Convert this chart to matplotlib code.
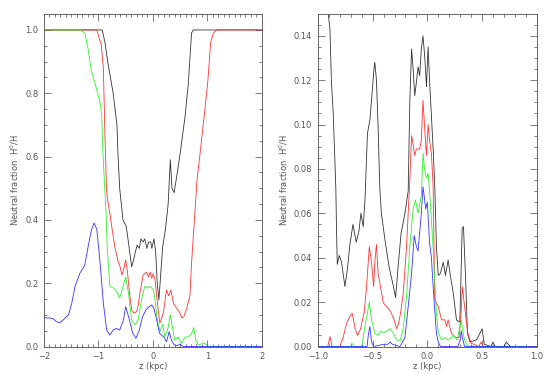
import numpy as np
import matplotlib
matplotlib.use("Agg")
import matplotlib.pyplot as plt
from matplotlib.ticker import MultipleLocator, FuncFormatter

# ---- left panel: z (kpc) / neutral fraction ----
left_black_z = [-2.0, -0.93, -0.88, -0.83, -0.73, -0.66, -0.64, -0.61, -0.58, -0.55, -0.52, -0.49,
                -0.45, -0.39, -0.36, -0.32, -0.29, -0.25, -0.22, -0.18, -0.15, -0.11, -0.08, -0.04,
                -0.02, 0.02, 0.05, 0.08, 0.11, 0.14, 0.18, 0.23, 0.28, 0.32, 0.35, 0.39, 0.44,
                0.50, 0.59, 0.65, 0.71, 0.74, 2.0]
left_black = [1.0, 1.0, 0.96, 0.90, 0.80, 0.70, 0.60, 0.50, 0.45, 0.40, 0.39, 0.38,
              0.33, 0.252, 0.27, 0.30, 0.32, 0.31, 0.34, 0.33, 0.34, 0.31, 0.33, 0.33,
              0.31, 0.34, 0.30, 0.20, 0.147, 0.22, 0.315, 0.37, 0.45, 0.59, 0.50, 0.486, 0.54,
              0.61, 0.725, 0.83, 0.99, 1.0, 1.0]

left_red_z = [-2.0, -1.03, -0.98, -0.95, -0.91, -0.88, -0.85, -0.82, -0.79, -0.74, -0.70, -0.64,
              -0.60, -0.57, -0.54, -0.50, -0.47, -0.43, -0.39, -0.35, -0.30, -0.27, -0.24, -0.18,
              -0.12, -0.08, -0.05, -0.02, 0.006, 0.04, 0.07, 0.097, 0.128, 0.19, 0.25, 0.29, 0.33,
              0.38, 0.44, 0.50, 0.53, 0.57, 0.62, 0.65, 0.68, 0.71, 0.77, 0.81, 0.86, 0.94,
              1.01, 1.06, 1.11, 1.17, 2.0]
left_red = [1.0, 1.0, 0.97, 0.955, 0.88, 0.66, 0.49, 0.45, 0.42, 0.36, 0.315, 0.27,
            0.25, 0.226, 0.24, 0.273, 0.24, 0.17, 0.115, 0.105, 0.11, 0.13, 0.168, 0.225,
            0.235, 0.22, 0.235, 0.215, 0.23, 0.21, 0.16, 0.115, 0.074, 0.105, 0.178, 0.16, 0.178,
            0.135, 0.12, 0.105, 0.09, 0.095, 0.12, 0.14, 0.16, 0.264, 0.42, 0.526, 0.60, 0.725,
            0.84, 0.96, 0.99, 1.0, 1.0]

left_green_z = [-2.0, -1.34, -1.25, -1.19, -1.13, -1.06, -0.97, -0.94, -0.92, -0.89, -0.86,
                -0.84, -0.79, -0.73, -0.67, -0.61, -0.54, -0.50, -0.45, -0.39, -0.33, -0.27, -0.21,
                -0.15, -0.09, -0.05, 0.006, 0.03, 0.08, 0.13, 0.18, 0.22, 0.28, 0.32, 0.36, 0.40,
                0.46, 0.53, 0.59, 0.65, 0.71, 0.75, 0.79, 0.83, 0.89, 0.95, 1.0, 2.0]
left_green = [1.0, 1.0, 0.99, 0.94, 0.87, 0.83, 0.77, 0.73, 0.62, 0.52, 0.42,
              0.315, 0.19, 0.185, 0.175, 0.153, 0.195, 0.22, 0.17, 0.084, 0.068, 0.084, 0.147,
              0.19, 0.185, 0.19, 0.18, 0.16, 0.084, 0.047, 0.07, 0.03, 0.06, 0.10, 0.06, 0.02,
              0.03, 0.01, 0.03, 0.03, 0.04, 0.06, 0.02, 0.005, 0.008, 0.012, 0.0, 0.0]

left_blue_z = [-2.0, -1.95, -1.89, -1.83, -1.77, -1.71, -1.66, -1.61, -1.55, -1.49, -1.43, -1.34,
               -1.28, -1.25, -1.19, -1.13, -1.08, -1.03, -0.97, -0.91, -0.85, -0.79, -0.73, -0.67,
               -0.61, -0.54, -0.50, -0.43, -0.37, -0.31, -0.25, -0.19, -0.13, -0.07, -0.02, 0.02,
               0.07, 0.12, 0.16, 0.20, 0.25, 0.30, 0.34, 0.39, 0.45, 0.50, 0.55, 2.0]
left_blue = [0.094, 0.09, 0.09, 0.088, 0.078, 0.075, 0.082, 0.09, 0.10, 0.137, 0.19, 0.232,
             0.248, 0.258, 0.315, 0.368, 0.39, 0.37, 0.264, 0.137, 0.052, 0.036, 0.052, 0.057,
             0.052, 0.084, 0.126, 0.084, 0.042, 0.026, 0.052, 0.094, 0.115, 0.126, 0.131, 0.12,
             0.084, 0.042, 0.036, 0.03, 0.015, 0.047, 0.02, 0.005, 0.003, 0.008, 0.0, 0.0]

# ---- right panel ----
right_black_z = [-0.91, -0.89, -0.877, -0.86, -0.845, -0.836, -0.83, -0.823, -0.805, -0.784, -0.753,
                 -0.73, -0.71, -0.68, -0.65, -0.625, -0.607, -0.586, -0.57, -0.547, -0.525, -0.51,
                 -0.486, -0.48, -0.465, -0.45, -0.434, -0.42, -0.39, -0.35, -0.31, -0.29, -0.267,
                 -0.24, -0.205, -0.175, -0.16, -0.144, -0.13, -0.115, -0.1, -0.085, -0.07, -0.055,
                 -0.04, -0.023, -0.008, 0.007, 0.02, 0.037, 0.053, 0.068, 0.083, 0.1, 0.12, 0.145,
                 0.165, 0.19, 0.21, 0.237, 0.266, 0.297, 0.318, 0.33, 0.35, 0.366, 0.39, 0.45,
                 0.48, 0.50, 0.52, 0.58, 0.60, 0.62, 0.70, 0.72, 0.76, 0.78, 1.0]
right_black = [0.152, 0.143, 0.12, 0.105, 0.084, 0.071, 0.053, 0.037, 0.041, 0.038, 0.027,
               0.035, 0.045, 0.055, 0.047, 0.052, 0.060, 0.054, 0.066, 0.096, 0.102, 0.111,
               0.126, 0.128, 0.12, 0.099, 0.071, 0.06, 0.049, 0.036, 0.027, 0.022, 0.036,
               0.051, 0.060, 0.070, 0.111, 0.134, 0.125, 0.113, 0.119, 0.126, 0.122, 0.134,
               0.14, 0.13, 0.117, 0.135, 0.12, 0.104, 0.089, 0.072, 0.045, 0.032, 0.033, 0.038,
               0.032, 0.039, 0.032, 0.024, 0.012, 0.011, 0.053, 0.054, 0.030, 0.006, 0.002, 0.003,
               0.006, 0.008, 0.001, 0.0, 0.002, 0.0, 0.0, 0.002, 0.0, 0.0, 0.0]

right_red_z = [-1.0, -0.91, -0.89, -0.87, -0.80, -0.77, -0.74, -0.71, -0.686, -0.66, -0.637, -0.61,
               -0.577, -0.557, -0.53, -0.51, -0.491, -0.48, -0.465, -0.45, -0.425, -0.403, -0.373,
               -0.34, -0.31, -0.28, -0.26, -0.245, -0.22, -0.19, -0.16, -0.144, -0.13, -0.115,
               -0.1, -0.085, -0.07, -0.055, -0.04, -0.023, -0.008, 0.007, 0.02, 0.037, 0.053,
               0.068, 0.1, 0.13, 0.16, 0.175, 0.19, 0.22, 0.26, 0.29, 0.31, 0.32, 0.34, 0.37,
               0.40, 0.47, 0.49, 0.51, 1.0]
right_red = [0.0, 0.0, 0.0045, 0.0, 0.0, 0.004, 0.01, 0.0135, 0.015, 0.008, 0.005, 0.008,
             0.0155, 0.026, 0.045, 0.038, 0.027, 0.038, 0.046, 0.033, 0.026, 0.0197, 0.018,
             0.016, 0.013, 0.008, 0.011, 0.015, 0.024, 0.045, 0.075, 0.095, 0.091, 0.086,
             0.089, 0.089, 0.089, 0.093, 0.111, 0.097, 0.086, 0.10, 0.093, 0.087, 0.072,
             0.021, 0.018, 0.012, 0.012, 0.009, 0.012, 0.006, 0.004, 0.004, 0.0165, 0.027, 0.018,
             0.006, 0.0015, 0.0, 0.002, 0.0, 0.0]

right_green_z = [-1.0, -0.70, -0.69, -0.67, -0.60, -0.57, -0.53, -0.51, -0.48, -0.45, -0.425, -0.40,
                 -0.37, -0.34, -0.31, -0.28, -0.25, -0.22, -0.19, -0.16, -0.13, -0.108, -0.085,
                 -0.055, -0.04, -0.023, -0.008, 0.007, 0.02, 0.037, 0.053, 0.068, 0.083, 0.1,
                 0.13, 0.16, 0.19, 0.22, 0.24, 0.27, 0.30, 0.31, 0.32, 0.34, 0.37, 1.0]
right_green = [0.0, 0.0, 0.0015, 0.0, 0.0, 0.009, 0.020, 0.012, 0.006, 0.005, 0.007, 0.006,
               0.007, 0.008, 0.006, 0.003, 0.0025, 0.008, 0.0226, 0.045, 0.062, 0.066, 0.06,
               0.068, 0.087, 0.079, 0.076, 0.078, 0.07, 0.057, 0.044, 0.029, 0.015, 0.006,
               0.003, 0.004, 0.003, 0.004, 0.005, 0.003, 0.009, 0.012, 0.008, 0.003, 0.0, 0.0]

right_blue_z = [-1.0, -0.55, -0.54, -0.525, -0.51, -0.49, -0.40, -0.36, -0.34, -0.32, -0.25, -0.205,
                -0.175, -0.144, -0.12, -0.1, -0.085, -0.055, -0.04, -0.032, -0.015, 0.0, 0.02,
                0.037, 0.053, 0.068, 0.083, 0.1, 0.12, 0.28, 0.30, 0.31, 0.32, 0.34, 1.0]
right_blue = [0.0, 0.0, 0.005, 0.009, 0.002, 0.0, 0.001, 0.001, 0.002, 0.001, 0.0, 0.004,
              0.018, 0.033, 0.05, 0.045, 0.043, 0.06, 0.072, 0.069, 0.062, 0.065, 0.047,
              0.04, 0.027, 0.016, 0.006, 0.002, 0.0, 0.0, 0.003, 0.007, 0.004, 0.0, 0.0]

ylabel = "Neutral fraction  H$^0$/H"
xlabel = "z (kpc)"

col_k, col_r, col_g, col_b = "#333333", "#ff3333", "#33ee33", "#3333ff"
txt = "#555555"

plt.rcParams["font.family"] = "DejaVu Sans"
plt.rcParams["font.size"] = 6
plt.rcParams["mathtext.default"] = "regular"

fig = plt.figure(figsize=(5.5, 3.75), dpi=100)
ax1 = fig.add_axes([0.080, 0.076, 0.396, 0.888])
ax2 = fig.add_axes([0.578, 0.076, 0.398, 0.888])


def fmt(pattern):
    # idl-ish labels with a real minus sign
    return FuncFormatter(lambda v, pos: (pattern % v).replace("-", "\u2212"))


def style(ax, xmaj, xmin, ymaj, ymin, yfmt, xfmt):
    ax.xaxis.set_major_locator(MultipleLocator(xmaj))
    ax.xaxis.set_minor_locator(MultipleLocator(xmin))
    ax.yaxis.set_major_locator(MultipleLocator(ymaj))
    ax.yaxis.set_minor_locator(MultipleLocator(ymin))
    ax.yaxis.set_major_formatter(fmt(yfmt))
    ax.xaxis.set_major_formatter(fmt(xfmt))
    ax.tick_params(which="both", direction="in", top=True, right=True,
                   colors="#666666", labelcolor=txt, width=0.6, labelsize=6)
    ax.tick_params(which="major", length=5, pad=4)
    ax.tick_params(which="minor", length=2.5)
    for s in ax.spines.values():
        s.set_color("#666666")
        s.set_linewidth(0.7)
    ax.set_xlabel(xlabel, color=txt, fontsize=6, labelpad=1)
    ax.set_ylabel(ylabel, color=txt, fontsize=6, labelpad=3)


lw = 0.6
ax1.plot(left_black_z, left_black, color=col_k, lw=lw)
ax1.plot(left_red_z, left_red, color=col_r, lw=lw)
ax1.plot(left_green_z, left_green, color=col_g, lw=lw)
ax1.plot(left_blue_z, left_blue, color=col_b, lw=lw)
ax1.set_xlim(-2, 2)
ax1.set_ylim(0, 1.052)
style(ax1, 1, 0.1, 0.2, 0.05, "%.1f", "%d")

ax2.plot(right_black_z, right_black, color=col_k, lw=lw)
ax2.plot(right_red_z, right_red, color=col_r, lw=lw)
ax2.plot(right_green_z, right_green, color=col_g, lw=lw)
ax2.plot(right_blue_z, right_blue, color=col_b, lw=lw)
ax2.set_xlim(-1, 1)
ax2.set_ylim(0, 0.15)
style(ax2, 0.5, 0.1, 0.02, 0.005, "%.2f", "%.1f")

fig.savefig("out.png", dpi=100)
